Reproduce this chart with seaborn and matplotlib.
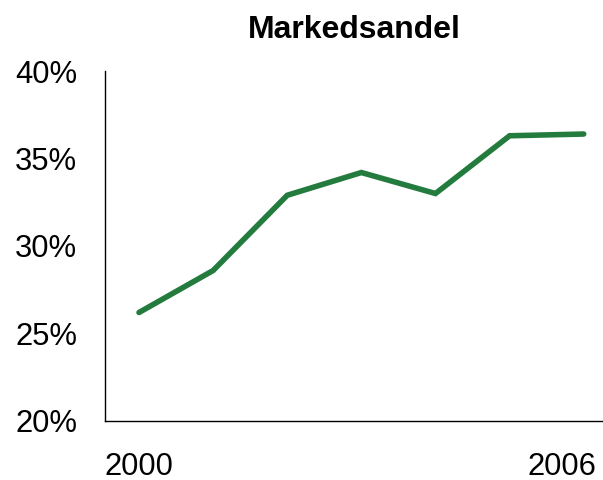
import matplotlib
matplotlib.use("Agg")
import matplotlib.pyplot as plt
import matplotlib.transforms as mtransforms
from matplotlib.ticker import PercentFormatter
import pandas as pd
import seaborn as sns

# Market share per year
years = [2000, 2001, 2002, 2003, 2004, 2005, 2006]
share = [26.2, 28.6, 32.9, 34.2, 33.0, 36.3, 36.4]
y_ticks = [20, 25, 30, 35, 40]
x_ticks = [2000, 2006]

df = pd.DataFrame({"year": years, "share": share})

sns.set_style("white")
plt.rcParams["font.family"] = ["Liberation Sans", "DejaVu Sans"]
plt.rcParams["text.color"] = "black"

fig = plt.figure(figsize=(6.03, 4.8), dpi=100)
ax = fig.add_axes([0.174, 0.123, 0.826, 0.729])

sns.lineplot(data=df, x="year", y="share", ax=ax, color="#237b3e",
             linewidth=4, solid_capstyle="round", solid_joinstyle="miter")

ax.set_xlim(1999.54, 2006.26)
ax.set_ylim(20, 40)
ax.set_yticks(y_ticks)
ax.set_xticks(x_ticks)
ax.set_xticklabels([str(x) for x in x_ticks])
ax.yaxis.set_major_formatter(PercentFormatter(decimals=0))
ax.tick_params(axis="both", length=0, labelsize=22.3, colors="black")
ax.tick_params(axis="y", pad=20)
ax.tick_params(axis="x", pad=22)

# last label is pulled inside the figure
lbl = ax.get_xticklabels()[-1]
lbl.set_transform(lbl.get_transform() + mtransforms.ScaledTranslation(-22 / 100, 0, fig.dpi_scale_trans))

ax.set_xlabel("")
ax.set_ylabel("")
ax.set_title("Markedsandel", fontsize=23, fontweight="bold", pad=24, color="black")

sns.despine(ax=ax)
for s in ["left", "bottom"]:
    ax.spines[s].set_color("black")
    ax.spines[s].set_linewidth(1.0)

fig.savefig("out.png", dpi=100)
